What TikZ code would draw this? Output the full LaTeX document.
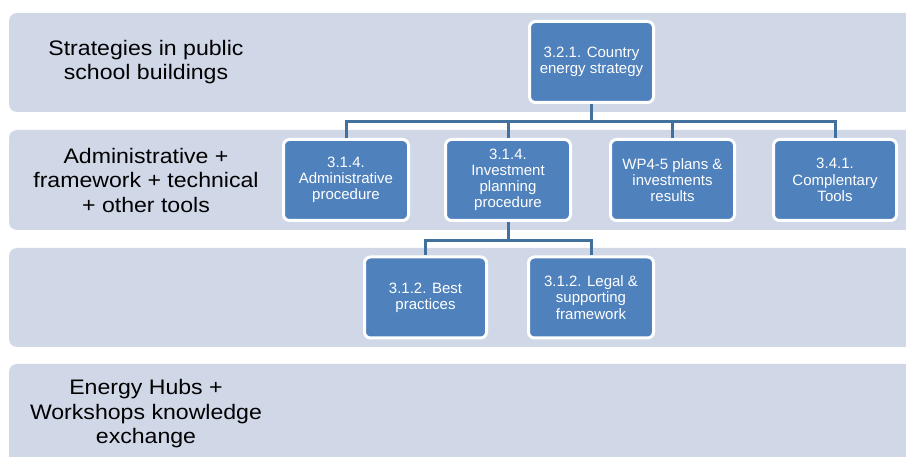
\documentclass[tikz,border=0pt]{standalone}
\usepackage{fontspec}
\setmainfont{Liberation Sans}
\newfontfamily\labelfont[FakeStretch=1.1]{Liberation Sans}
\definecolor{bandfill}{HTML}{D0D8E8}
\definecolor{boxblue}{HTML}{4F81BD}
\definecolor{connblue}{HTML}{41719C}
\tikzset{
  band/.style={fill=bandfill, rounded corners=8pt},
  bandlabel/.style={align=center, text=black, font=\labelfont\fontsize{21}{24.5}\selectfont},
  orgbox/.style={draw=white, line width=3pt, fill=boxblue, rounded corners=6pt,
    text=white, align=center, font=\fontsize{15}{16.2}\selectfont,
    minimum height=81pt, inner sep=2pt},
  conn/.style={draw=connblue, line width=3pt}
}
\begin{document}
\begin{tikzpicture}[x=1pt,y=-1pt]
\useasboundingbox (0,0) rectangle (906,457);
\fill[white] (0,0) rectangle (906,457);
% bands
\fill[band] (9,13) rectangle (940,112);
\fill[band] (9,130) rectangle (940,230);
\fill[band] (9,248) rectangle (940,347);
\fill[band] (9,364) rectangle (940,490);
% band labels
\node[bandlabel] (l1) at (146,62) {Strategies in public\\school buildings};
\node[bandlabel] (l2) at (146,180) {Administrative +\\framework + technical\\+ other tools};
\node[bandlabel] (l4) at (146,414) {Energy Hubs +\\Workshops knowledge\\exchange};
% boxes
\node[orgbox, minimum width=124pt] (top) at (591.5,62) {3.2.1. Country\\energy strategy};
\node[orgbox, minimum width=125pt] (a) at (346,180) {3.1.4.\\Administrative\\procedure};
\node[orgbox, minimum width=125pt] (b) at (508,180) {3.1.4.\\Investment\\planning\\procedure};
\node[orgbox, minimum width=124pt] (c) at (672.5,180) {WP4-5 plans \&\\investments\\results};
\node[orgbox, minimum width=123pt] (d) at (835,180) {3.4.1.\\Complentary\\Tools};
\node[orgbox, minimum width=122pt] (e) at (425.5,297.5) {3.1.2. Best\\practices};
\node[orgbox, minimum width=125pt] (f) at (591,297.5) {3.1.2. Legal \&\\supporting\\framework};
% connectors
\coordinate (j1) at (0,122);
\coordinate (j2) at (0,241);
\foreach \t in {a,b,c,d}
  \draw[conn] (top.south) -- (top.south |- j1) -| (\t.north);
\foreach \t in {e,f}
  \draw[conn] (b.south) -- (b.south |- j2) -| (\t.north);
\end{tikzpicture}
\end{document}
